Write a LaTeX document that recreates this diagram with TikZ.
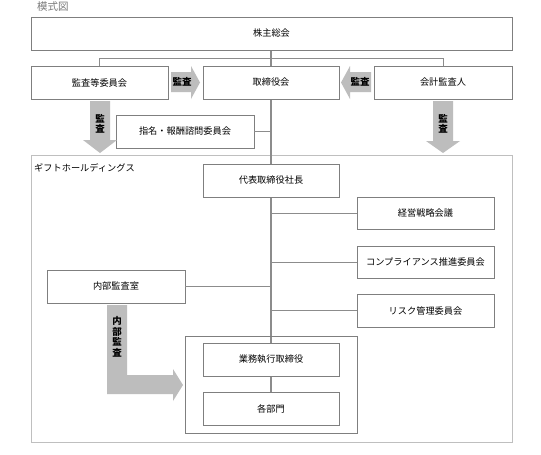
\documentclass[tikz,border=0pt]{standalone}
\usepackage{fontspec}
\setmainfont{Noto Sans CJK JP}
\begin{document}
\begin{tikzpicture}[x=1pt,y=-1pt,
  box/.style={draw=boxgray,line width=0.9pt,fill=white,inner sep=0pt,minimum height=33pt,font=\fontsize{9.2}{10}\selectfont},
  link/.style={draw=linegray,line width=0.9pt},
  mainlink/.style={draw=linegray,line width=1.3pt},
  blockarrow/.style={fill=arrowgray,draw=none},
  arrowlabel/.style={font=\fontsize{9.5}{10.5}\selectfont\bfseries,inner sep=0pt,align=center}]
\definecolor{boxgray}{HTML}{7F7F7F}
\definecolor{linegray}{HTML}{8C8C8C}
\definecolor{arrowgray}{HTML}{BDBDBD}
\definecolor{framegray}{HTML}{BFBFBF}
\definecolor{titlegray}{HTML}{7A7A7A}
\useasboundingbox (0,0) rectangle (541,455);
\fill[white] (0,0) rectangle (541,455);
% title
\node[anchor=west,text=titlegray,font=\fontsize{10.5}{11}\selectfont,inner sep=0pt] (title) at (37,7) {模式図};
% container
\node[draw=framegray,line width=0.9pt,minimum width=481pt,minimum height=287pt,inner sep=0pt] (hold) at (271.5,298.5) {};
\node[anchor=west,font=\fontsize{9.2}{10}\selectfont,inner sep=0pt] (holdlabel) at (34,168) {ギフトホールディングス};
% connectors (behind boxes)
\draw[mainlink] (271,50) -- (271,343);
\draw[mainlink] (271,376) -- (271,392);
% boxes
\node[box,minimum width=481pt] (agm) at (271.5,33.5) {株主総会};
\node[box,minimum width=137pt] (audit) at (99.5,82.5) {監査等委員会};
\node[box,minimum width=136pt] (board) at (271,82.5) {取締役会};
\node[box,minimum width=138pt] (acct) at (443,82.5) {会計監査人};
\node[box,minimum width=138pt] (nom) at (185,131.5) {指名・報酬諮問委員会};
\node[box,minimum width=136pt] (ceo) at (271,180.5) {代表取締役社長};
\node[box,minimum width=137pt,minimum height=32pt] (strat) at (425.5,213) {経営戦略会議};
\node[box,minimum width=137pt,minimum height=32pt] (comp) at (425.5,262) {コンプライアンス推進委員会};
\node[box,minimum width=137pt] (risk) at (425.5,310.5) {リスク管理委員会};
\node[box,minimum width=138pt] (internal) at (116,286.5) {内部監査室};
\node[draw=boxgray,line width=0.9pt,minimum width=172pt,minimum height=97pt,inner sep=0pt] (execgrp) at (271,384.5) {};
\node[box,minimum width=136pt] (exec) at (271,359.5) {業務執行取締役};
\node[box,minimum width=136pt] (dept) at (271,408.5) {各部門};
% connectors
\draw[link] (audit.north) -- ++(0,-7) -| (acct.north);
\draw[link] (nom.east) -- (nom.east -| board.south);
\draw[link] (strat.west) -- (strat.west -| ceo.south);
\draw[link] (comp.west) -- (comp.west -| ceo.south);
\draw[link] (risk.west) -- (risk.west -| ceo.south);
\draw[link] (internal.east) -- (internal.east -| ceo.south);
% block arrows
\fill[blockarrow] (171,72) -- (191,72) -- (191,66) -- (200,82.5) -- (191,99) -- (191,92) -- (171,92) -- cycle;
\node[arrowlabel] (a1) at (182,82) {監査};
\fill[blockarrow] (371,72) -- (350,72) -- (350,66) -- (341,82.5) -- (350,99) -- (350,92) -- (371,92) -- cycle;
\node[arrowlabel] (a2) at (360,82) {監査};
\fill[blockarrow] (90,101) -- (110,101) -- (110,140) -- (117,140) -- (100,153) -- (83,140) -- (90,140) -- cycle;
\node[arrowlabel] (a3) at (100,124) {監\\査};
\fill[blockarrow] (433,101) -- (453,101) -- (453,141) -- (460,141) -- (443,153) -- (426,141) -- (433,141) -- cycle;
\node[arrowlabel] (a4) at (443,124) {監\\査};
\fill[blockarrow] (107,305) -- (127,305) -- (127,375) -- (173,375) -- (173,369) -- (183,385) -- (173,401) -- (173,394) -- (107,394) -- cycle;
\node[arrowlabel] (a5) at (117,337) {内\\部\\監\\査};
\end{tikzpicture}
\end{document}
